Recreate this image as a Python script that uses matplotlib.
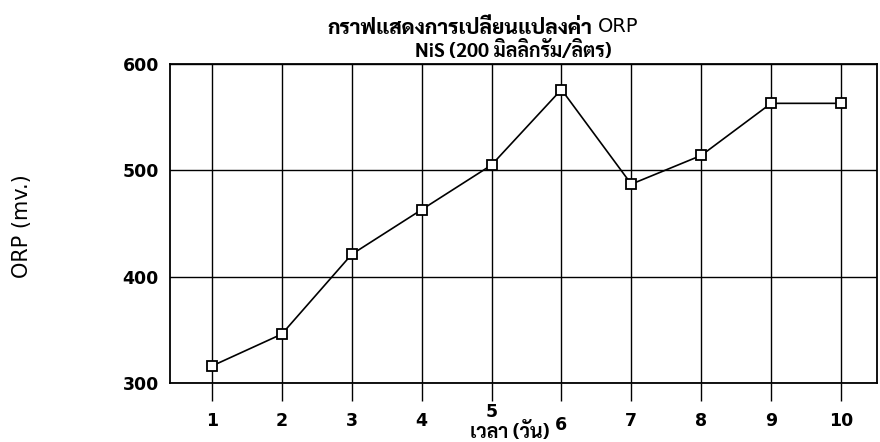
import matplotlib
matplotlib.use("Agg")
import matplotlib.pyplot as plt
import matplotlib.transforms as mtransforms
from matplotlib import font_manager

days = [1, 2, 3, 4, 5, 6, 7, 8, 9, 10]
orp = [316, 346, 421, 463, 505, 576, 487, 514, 563, 563]
y_ticks = [300, 400, 500, 600]

title_th = "กราฟแสดงการเปลี่ยนแปลงค่า"
title_en = "ORP"
subtitle = "NiS (200 มิลลิกรัม/ลิตร)"
x_label = "เวลา (วัน)"
y_label = "ORP (mv.)"

# pick an installed Thai face, keep DejaVu as fallback for latin glyphs
names = {f.name for f in font_manager.fontManager.ttflist}
thai = next((n for n in ["Sarabun", "Noto Sans Thai", "Bai Jamjuree", "Chakra Petch"] if n in names), None)
fam = [thai, "DejaVu Sans"] if thai else ["DejaVu Sans"]

W, H = 880, 442
fig = plt.figure(figsize=(8.8, 4.42), dpi=100)
ax = fig.add_axes([170 / W, 1 - 383 / H, 707 / W, 319 / H])

ax.plot(days, orp, color="black", linewidth=1.2, marker="s", markersize=7,
        markerfacecolor="white", markeredgecolor="black", markeredgewidth=1.3, zorder=3)

ax.set_xlim(0.4, 10.515)
ax.set_ylim(300, 600)
ax.set_yticks(y_ticks)
ax.set_xticks(days)
ax.set_xticklabels([])
ax.grid(True, color="black", linewidth=1.0)
ax.tick_params(axis="x", direction="out", length=13, width=1.0)
ax.tick_params(axis="y", length=0, pad=8, labelsize=12.5)
for lbl in ax.get_yticklabels():
    lbl.set_fontweight("bold")
for sp in ax.spines.values():
    sp.set_linewidth(1.3)

# x tick labels, the scan has "5" lifted and "6" dropped around the axis title
trans = mtransforms.blended_transform_factory(ax.transData, fig.transFigure)
lift = {5: -9, 6: 4}
for d in days:
    fig_y = 1 - (421 + lift.get(d, 0)) / H
    ax.text(d, fig_y, str(d), transform=trans, ha="center", va="center",
            fontsize=12.5, fontweight="bold")

fig.text(592 / W, 1 - 29 / H, title_th, ha="right", va="center",
         fontsize=15, fontweight=800, family=fam)
fig.text(598 / W, 1 - 27 / H, title_en, ha="left", va="center",
         fontsize=14, family="DejaVu Sans")
fig.text(513 / W, 1 - 51 / H, subtitle, ha="center", va="center",
         fontsize=14, fontweight="bold", family=fam)
fig.text(510 / W, 1 - 432 / H, x_label, ha="center", va="center",
         fontsize=14, fontweight="bold", family=fam)
fig.text(22 / W, 1 - 226 / H, y_label, ha="center", va="center",
         rotation=90, fontsize=15, family="DejaVu Sans")

fig.savefig("out.png", dpi=100)
